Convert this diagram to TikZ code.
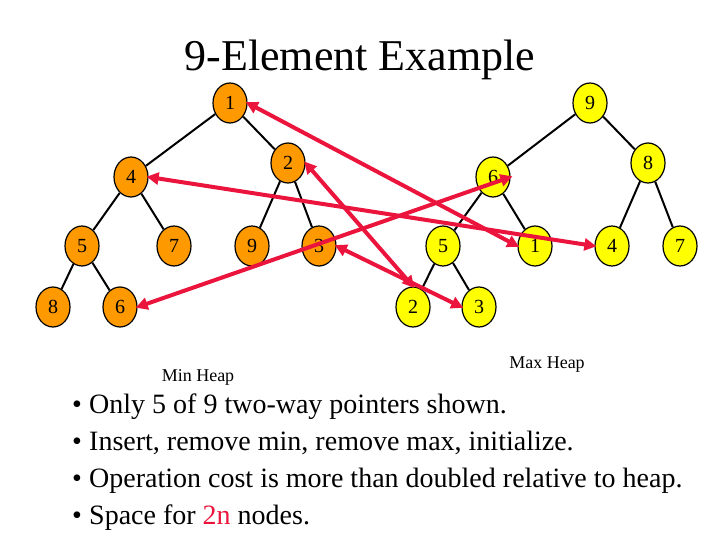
\documentclass[tikz,border=0pt]{standalone}
\usepackage{fontspec}
\setmainfont{Liberation Serif}
\usetikzlibrary{shapes.geometric,arrows.meta}
\definecolor{mino}{RGB}{255,153,0}
\definecolor{maxy}{RGB}{255,255,0}
\definecolor{arr}{RGB}{235,20,60}
\begin{document}
\begin{tikzpicture}[x=1pt,y=-1pt,
 hn/.style={ellipse,draw=black,line width=1.2pt,minimum width=34pt,minimum height=40pt,inner sep=0pt,font=\fontsize{20}{20}\selectfont},
 mn/.style={hn,fill=mino},
 xn/.style={hn,fill=maxy},
 ed/.style={line width=2pt},
 pt/.style={draw=arr,line width=4pt,{Triangle[length=12pt,width=12pt]}-{Triangle[length=12pt,width=12pt]},shorten <=-2pt,shorten >=-2pt}]
\useasboundingbox (0,0) rectangle (720,540);
\node (title) at (360,60) {\fontsize{44}{44}\selectfont 9-Element Example};
% min heap
\node[mn] (a1) at (230,103) {1};
\node[mn] (a4) at (131,177) {4};
\node[mn] (a2) at (288,163) {2};
\node[mn] (a5) at (82,246) {5};
\node[mn] (a7) at (174,246) {7};
\node[mn] (a9) at (252,246) {9};
\node[mn] (a3) at (319,246) {3};
\node[mn] (a8) at (53,307) {8};
\node[mn] (a6) at (120,307) {6};
\draw[ed] (a1)--(a4) (a1)--(a2) (a4)--(a5) (a4)--(a7) (a2)--(a9) (a2)--(a3) (a5)--(a8) (a5)--(a6);
% max heap
\node[xn] (b9) at (590,103) {9};
\node[xn] (b6) at (493,177) {6};
\node[xn] (b8) at (648,163) {8};
\node[xn] (b5) at (443,246) {5};
\node[xn] (b1) at (535,246) {1};
\node[xn] (b4) at (612,246) {4};
\node[xn] (b7) at (680,246) {7};
\node[xn] (b2) at (413,307) {2};
\node[xn] (b3) at (479,307) {3};
\draw[ed] (b9)--(b6) (b9)--(b8) (b6)--(b5) (b6)--(b1) (b8)--(b4) (b8)--(b7) (b5)--(b2) (b5)--(b3);
% pointers
\draw[pt] (a1.east)--(b1.west);
\draw[pt] (a4.east)--(b4.west);
\draw[pt] (a6.east)--(b6.east);
\draw[pt] (a2.east)--(b2.north);
\draw[pt] (a3.east)--(b3.west);
\node[font=\fontsize{18}{18}\selectfont] (minl) at (198,377) {Min Heap};
\node[font=\fontsize{18}{18}\selectfont] (maxl) at (547,365) {Max Heap};
\begin{scope}[every node/.style={anchor=base west,font=\fontsize{28}{28}\selectfont,inner sep=0pt}]
\node (l1) at (89,413) {Only 5 of 9 two-way pointers shown.};
\node (l2) at (89,450) {Insert, remove min, remove max, initialize.};
\node (l3) at (89,487) {Operation cost is more than doubled relative to heap.};
\node (l4) at (89,524) {Space for \textcolor{arr}{2n} nodes.};
\node (d1) at (72,413) {•};
\node (d2) at (72,450) {•};
\node (d3) at (72,487) {•};
\node (d4) at (72,524) {•};
\end{scope}
\end{tikzpicture}
\end{document}
